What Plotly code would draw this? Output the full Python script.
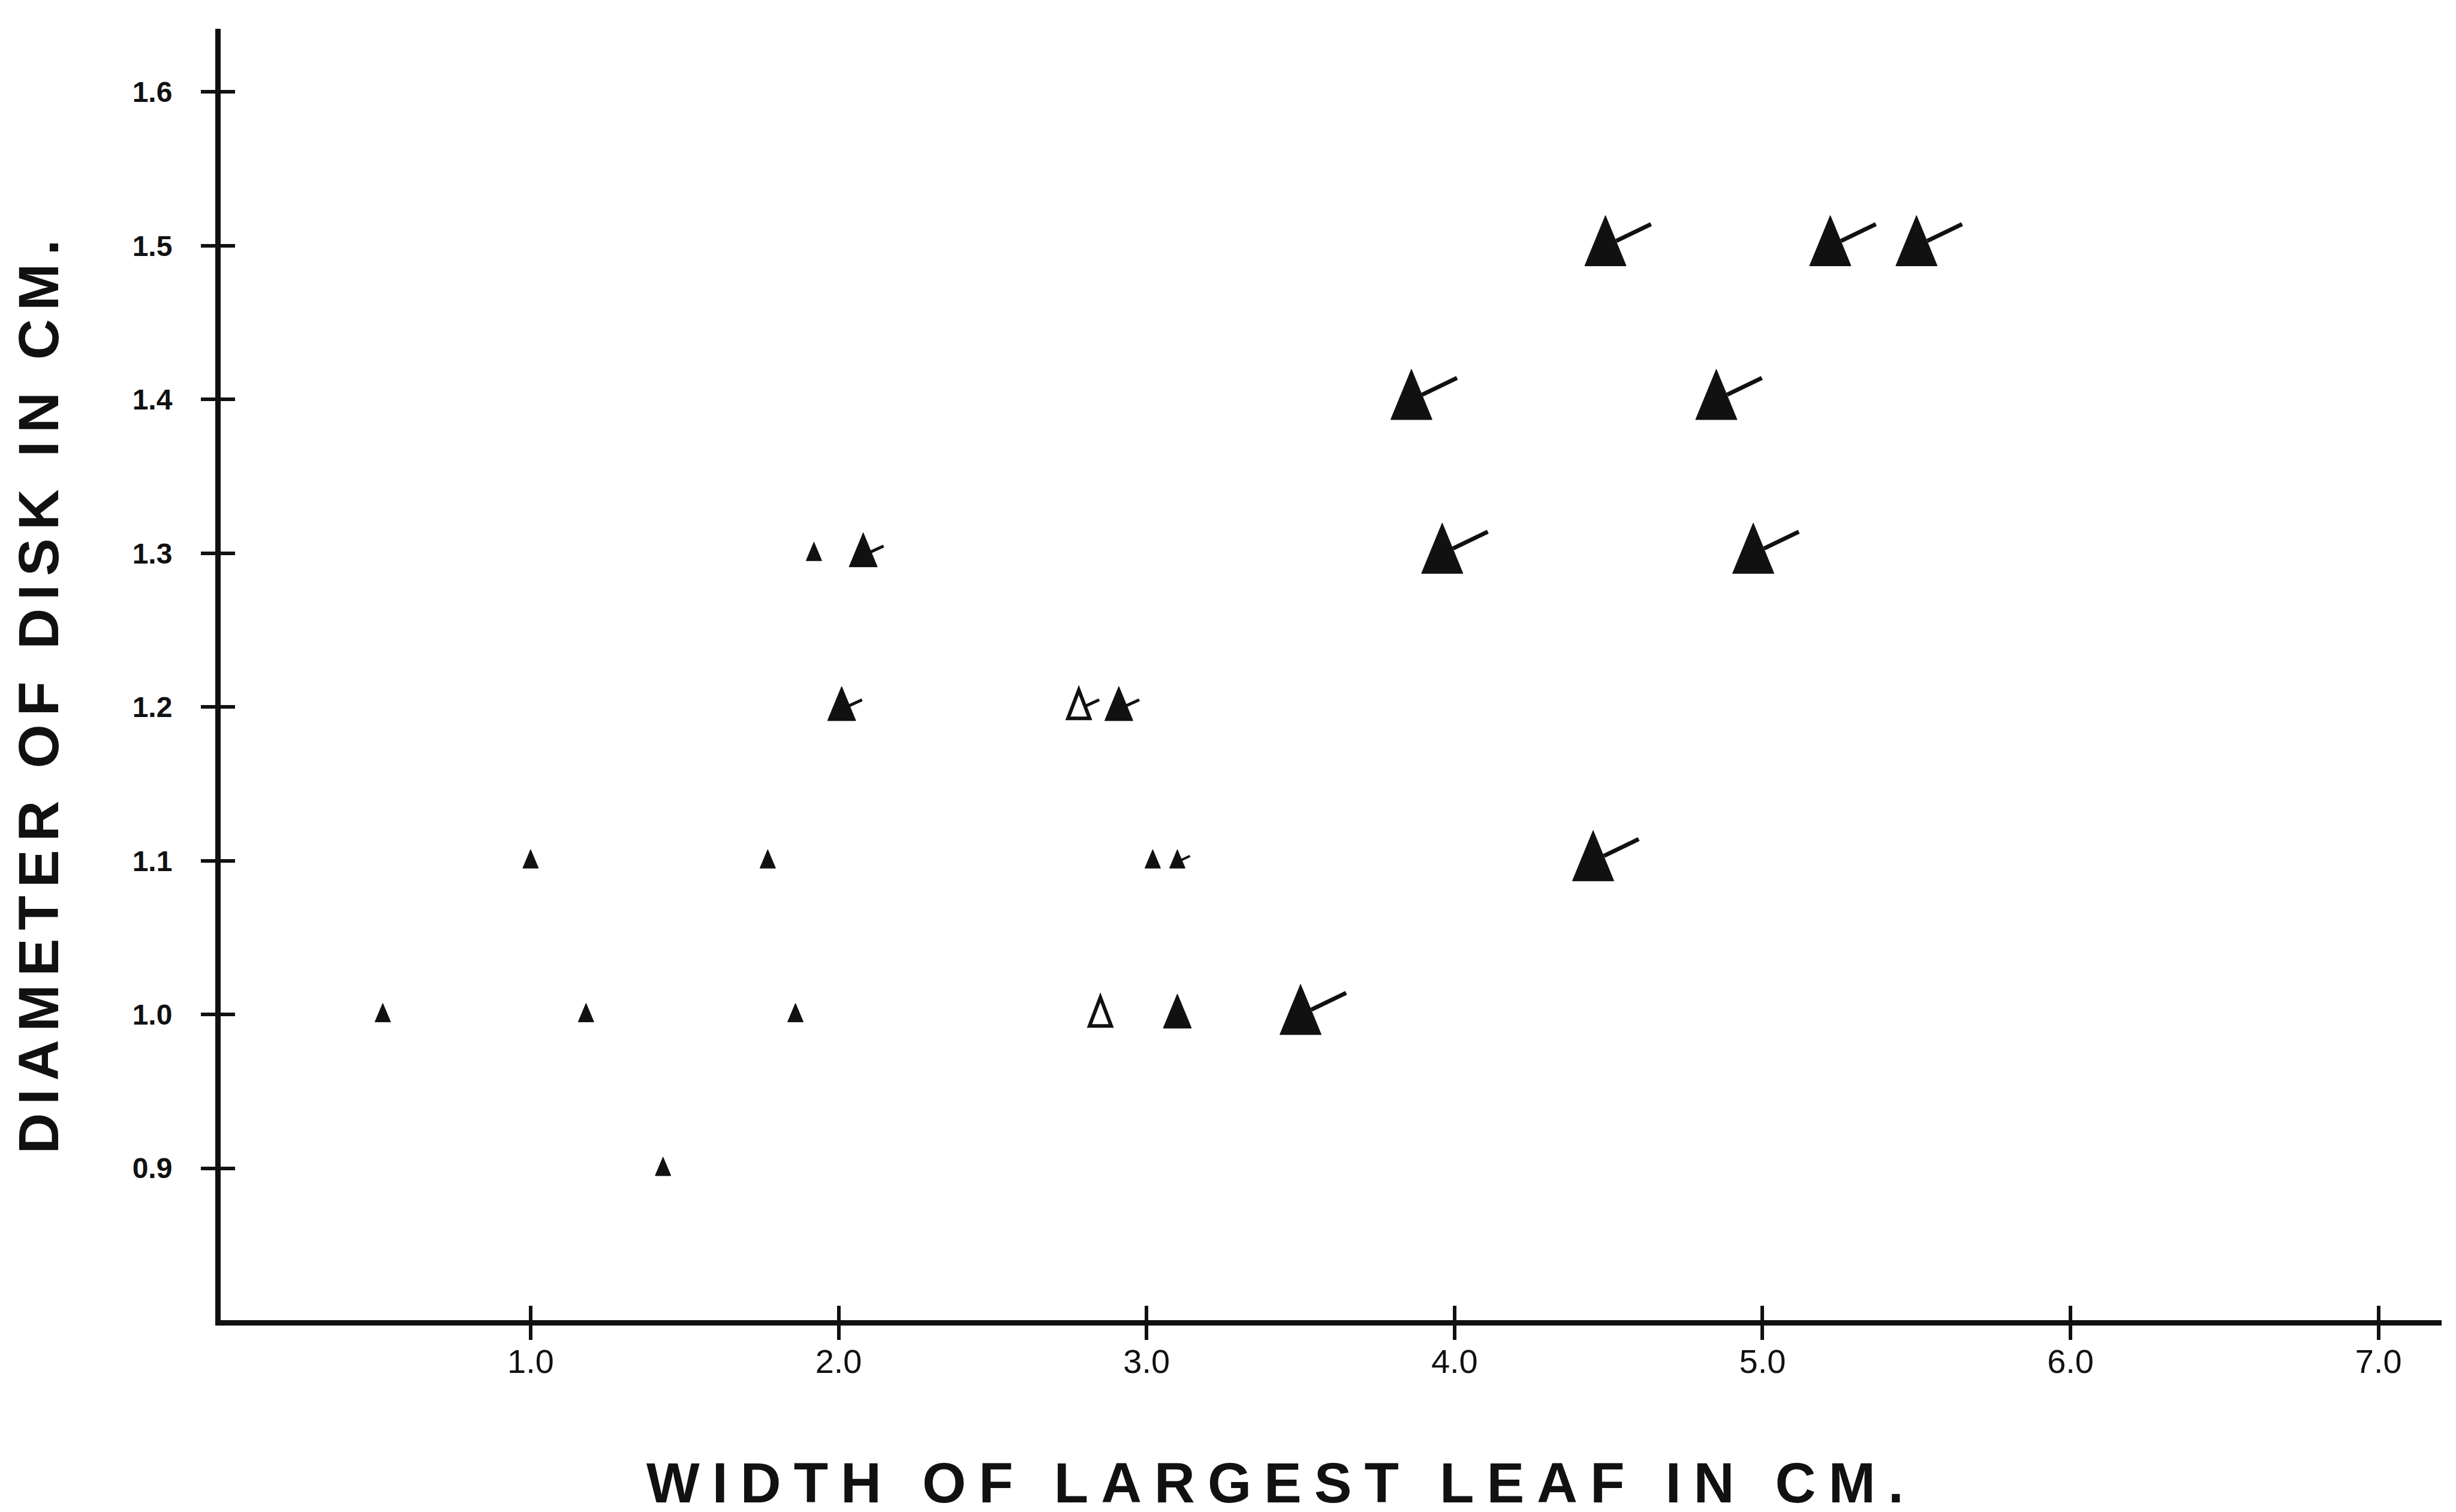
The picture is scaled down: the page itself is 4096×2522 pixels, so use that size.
import plotly.graph_objects as go

# ---------------- data ----------------
# small triangles
small_x = [0.52, 1.00, 1.18, 1.43, 1.77, 1.86, 1.92, 3.02, 3.10]
small_y = [1.0, 1.1, 1.0, 0.9, 1.1, 1.0, 1.3, 1.1, 1.1]
small_tail = [False, False, False, False, False, False, False, False, True]
small_open = [False, False, False, False, False, False, False, False, False]

# medium triangles
medium_x = [2.08, 2.01, 2.78, 2.91, 2.85, 3.10]
medium_y = [1.3, 1.2, 1.2, 1.2, 1.0, 1.0]
medium_tail = [True, True, True, True, False, False]
medium_open = [False, False, True, False, True, False]

# large triangles
large_x = [3.50, 4.49, 5.22, 5.50, 3.86, 4.85, 3.96, 4.97, 4.45]
large_y = [1.0, 1.5, 1.5, 1.5, 1.4, 1.4, 1.3, 1.3, 1.1]
large_tail = [True, True, True, True, True, True, True, True, True]
large_open = [False, False, False, False, False, False, False, False, False]

x_ticks = [1, 2, 3, 4, 5, 6, 7]
x_tick_labels = ["1.0", "2.0", "3.0", "4.0", "5.0", "6.0", "7.0"]
y_ticks = [0.9, 1.0, 1.1, 1.2, 1.3, 1.4, 1.5, 1.6]
y_tick_labels = ["0.9", "1.0", "1.1", "1.2", "1.3", "1.4", "1.5", "1.6"]

x_title = "WIDTH OF LARGEST LEAF IN CM."
y_title = "DIAMETER OF DISK IN CM."

# ---------------- styles ----------------
INK = "#111111"
X_RANGE = [-0.0064, 7.205]
Y_RANGE = [0.8012, 1.6411]

# glyph geometry in pixels: (width, height, tail start, tail end, tail width, open stroke)
GLYPH = {
    "small": dict(w=26, h=31, t0=(6, 1), t1=(21, 8), tw=4, sw=4),
    "medium": dict(w=47, h=57, t0=(10, 1), t1=(34, 12), tw=5, sw=6),
    "large": dict(w=69, h=84, t0=(18, 8), t1=(76, 36), tw=7, sw=7),
}


def tri_path(w, h):
    return "M%.1f,%.1fL%.1f,%.1fL0,%.1fZ" % (-w / 2, -0.4 * h, w / 2, -0.4 * h, 0.6 * h)


fig = go.Figure()

groups = [
    ("small", small_x, small_y, small_tail, small_open),
    ("medium", medium_x, medium_y, medium_tail, medium_open),
    ("large", large_x, large_y, large_tail, large_open),
]

tail_shapes = []
tri_shapes = []
for name, xs, ys, tails, opens in groups:
    g = GLYPH[name]
    # data trace (carries the values; glyphs drawn as pixel-sized shapes anchored to the data)
    fig.add_trace(go.Scatter(
        x=xs, y=ys, mode="markers", name=name,
        marker=dict(size=10, opacity=0),
        hovertemplate="width %{x}<br>diameter %{y}<extra>" + name + "</extra>",
        showlegend=False,
    ))
    for x, y, t, o in zip(xs, ys, tails, opens):
        if t:
            tail_shapes.append(dict(
                type="path", xref="x", yref="y",
                xsizemode="pixel", ysizemode="pixel", xanchor=x, yanchor=y,
                path="M%.1f,%.1fL%.1f,%.1f" % (g["t0"][0], g["t0"][1], g["t1"][0], g["t1"][1]),
                line=dict(color=INK, width=g["tw"]),
                layer="above",
            ))
        if o:
            sw = g["sw"]
            tri_shapes.append(dict(
                type="path", xref="x", yref="y",
                xsizemode="pixel", ysizemode="pixel", xanchor=x, yanchor=y,
                path=tri_path(g["w"] - 1.8 * sw, g["h"] - 1.6 * sw),
                fillcolor="white",
                line=dict(color=INK, width=sw),
                layer="above",
            ))
        else:
            tri_shapes.append(dict(
                type="path", xref="x", yref="y",
                xsizemode="pixel", ysizemode="pixel", xanchor=x, yanchor=y,
                path=tri_path(g["w"], g["h"]),
                fillcolor=INK,
                line=dict(color=INK, width=1),
                layer="above",
            ))

# trace on overlay axes so the crossing (inside) ticks get drawn
fig.add_trace(go.Scatter(x=[], y=[], xaxis="x2", yaxis="y2", showlegend=False, hoverinfo="skip"))

x_title_html = ('<span style="letter-spacing:21px">' + x_title + "</span>"
                '<span style="letter-spacing:140px">&nbsp;</span>')
y_title_html = ('<span style="letter-spacing:14px">' + y_title + "</span>"
                '<span style="letter-spacing:34px">&nbsp;</span>')

fig.update_layout(
    width=4096, height=2522,
    margin=dict(l=360, r=32, t=40, b=328, pad=0),
    paper_bgcolor="white", plot_bgcolor="white",
    showlegend=False,
    shapes=tail_shapes + tri_shapes,
    xaxis=dict(
        range=X_RANGE, tickmode="array", tickvals=x_ticks, ticktext=x_tick_labels,
        ticks="outside", ticklen=24, tickwidth=6, tickcolor=INK,
        showline=True, linewidth=9, linecolor=INK,
        showgrid=False, zeroline=False, automargin=False,
        tickfont=dict(family="Liberation Sans", size=56, color=INK),
        ticklabelstandoff=-12,
        title=dict(
            text=x_title_html,
            font=dict(family="Liberation Sans", size=94, color=INK, weight="bold"),
            standoff=142,
        ),
    ),
    xaxis2=dict(
        overlaying="x", anchor="y", side="bottom",
        range=X_RANGE, tickmode="array", tickvals=x_ticks,
        ticks="inside", ticklen=24, tickwidth=6, tickcolor=INK,
        showticklabels=False, showline=False, showgrid=False, zeroline=False,
    ),
    yaxis=dict(
        range=Y_RANGE, tickmode="array", tickvals=y_ticks, ticktext=y_tick_labels,
        ticks="outside", ticklen=24, tickwidth=6, tickcolor=INK,
        showline=True, linewidth=9, linecolor=INK,
        showgrid=False, zeroline=False, automargin=False,
        tickfont=dict(family="Liberation Sans", size=48, color=INK, weight="bold"),
        ticklabelstandoff=38,
        title=dict(
            text=y_title_html,
            font=dict(family="Liberation Sans", size=94, color=INK, weight="bold"),
            standoff=95,
        ),
    ),
    yaxis2=dict(
        overlaying="y", anchor="x", side="left",
        range=Y_RANGE, tickmode="array", tickvals=y_ticks,
        ticks="inside", ticklen=24, tickwidth=6, tickcolor=INK,
        showticklabels=False, showline=False, showgrid=False, zeroline=False,
    ),
)

fig.write_html("out.html")
